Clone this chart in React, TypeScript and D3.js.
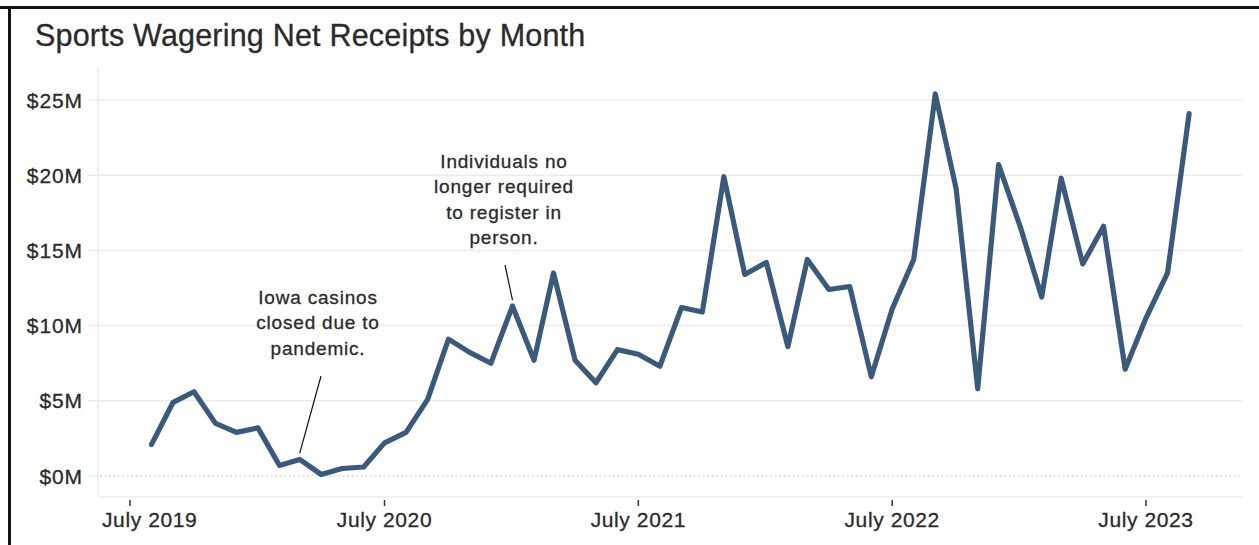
import React from "react";
import * as d3 from "d3";

const months: string[] = [
  "2019-08","2019-09","2019-10","2019-11","2019-12",
  "2020-01","2020-02","2020-03","2020-04","2020-05","2020-06","2020-07","2020-08","2020-09","2020-10","2020-11","2020-12",
  "2021-01","2021-02","2021-03","2021-04","2021-05","2021-06","2021-07","2021-08","2021-09","2021-10","2021-11","2021-12",
  "2022-01","2022-02","2022-03","2022-04","2022-05","2022-06","2022-07","2022-08","2022-09","2022-10","2022-11","2022-12",
  "2023-01","2023-02","2023-03","2023-04","2023-05","2023-06","2023-07","2023-08","2023-09",
];

// Net receipts, $ millions
const receipts: number[] = [
  2.1, 4.9, 5.6, 3.5, 2.9,
  3.2, 0.7, 1.1, 0.1, 0.5, 0.6, 2.2, 2.9, 5.1, 9.1, 8.2, 7.5,
  11.3, 7.7, 13.5, 7.7, 6.2, 8.4, 8.1, 7.3, 11.2, 10.9, 19.9, 13.4,
  14.2, 8.6, 14.4, 12.4, 12.6, 6.6, 11.1, 14.4, 25.4, 19.1, 5.8, 20.7,
  16.6, 11.9, 19.8, 14.1, 16.6, 7.1, 10.5, 13.5, 24.1,
];

const yTicks: number[] = [0, 5, 10, 15, 20, 25];
const xTickDates: string[] = ["2019-07", "2020-07", "2021-07", "2022-07", "2023-07"];
const xTickLabels: string[] = ["July 2019", "July 2020", "July 2021", "July 2022", "July 2023"];

const annotations = [
  { lines: ["Iowa casinos", "closed due to", "pandemic."], month: "2020-03", textX: 318, textY: 304, lineFrom: [321, 376] },
  { lines: ["Individuals no", "longer required", "to register in", "person."], month: "2021-01", textX: 504, textY: 168, lineFrom: [505, 265] },
];

const W = 1259;
const H = 545;
const FONT = "'Liberation Sans', Arial, sans-serif";
const TEXT = "#2a2a2a";

const parse = d3.timeParse("%Y-%m");

export default function App() {
  const x = d3
    .scaleTime()
    .domain([parse("2019-07")!, parse("2023-07")!])
    .range([130, 1146]);
  const y = d3.scaleLinear().domain([0, 25]).range([476, 100]);

  const plotLeft = 98;
  const plotRight = 1243;
  const plotTop = 68;
  const plotBottom = 497;

  const data = months.map((m, i) => ({ date: parse(m)!, v: receipts[i] }));
  const line = d3
    .line<{ date: Date; v: number }>()
    .x((d) => x(d.date))
    .y((d) => y(d.v));

  const textStroke = { stroke: TEXT, strokeWidth: 0.3 };

  return (
    <svg
      width={W}
      height={H}
      style={{ position: "absolute", left: 0, top: 0, background: "#fff" }}
      fontFamily={FONT}
    >
      <rect x={0} y={0} width={W} height={H} fill="#fff" />
      {/* frame */}
      <line x1={0} x2={W} y1={7.5} y2={7.5} stroke="#111" strokeWidth={3} />
      <line x1={9.5} x2={9.5} y1={6} y2={H} stroke="#111" strokeWidth={3} />

      {/* title */}
      <text x={35} y={46} fontSize={30.5} letterSpacing={0.2} fill={TEXT} {...textStroke}>
        Sports Wagering Net Receipts by Month
      </text>

      {/* gridlines */}
      {yTicks.map((t) =>
        t === 0 ? (
          <g key={t}>
            <line x1={88} x2={plotLeft} y1={y(t)} y2={y(t)} stroke="#ececec" strokeWidth={1.5} />
            <line
              x1={plotLeft + 2}
              x2={plotRight}
              y1={y(t)}
              y2={y(t)}
              stroke="#b8b8b8"
              strokeWidth={1.2}
              strokeDasharray="1.5,3"
            />
          </g>
        ) : (
          <line key={t} x1={88} x2={plotRight} y1={y(t)} y2={y(t)} stroke="#ececec" strokeWidth={1.5} />
        )
      )}
      {/* axis frame lines */}
      <line x1={plotLeft} x2={plotLeft} y1={plotTop} y2={plotBottom} stroke="#ececec" strokeWidth={1.5} />
      <line x1={plotLeft} x2={plotRight} y1={plotBottom} y2={plotBottom} stroke="#ececec" strokeWidth={1.5} />

      {/* y labels */}
      {yTicks.map((t) => (
        <text
          key={t}
          x={83}
          y={y(t) + 7.5}
          textAnchor="end"
          fontSize={21}
          letterSpacing={0.9}
          fill={TEXT}
          {...textStroke}
        >
          {`$${t}M`}
        </text>
      ))}

      {/* x ticks and labels */}
      {xTickDates.map((m, i) => {
        const px = x(parse(m)!);
        const first = i === 0;
        return (
          <g key={m}>
            <line x1={px} x2={px} y1={500} y2={506} stroke="#333" strokeWidth={1.5} />
            <text
              x={first ? 102 : px}
              y={527}
              textAnchor={first ? "start" : "middle"}
              fontSize={21}
              letterSpacing={0.6}
              fill={TEXT}
              {...textStroke}
            >
              {xTickLabels[i]}
            </text>
          </g>
        );
      })}

      {/* data line */}
      <path
        d={line(data) || ""}
        fill="none"
        stroke="#3b5a7b"
        strokeWidth={5.2}
        strokeLinejoin="round"
        strokeLinecap="round"
      />

      {/* annotations */}
      {annotations.map((a, i) => {
        const idx = months.indexOf(a.month);
        const px = x(data[idx].date);
        const py = y(data[idx].v) - 6;
        return (
          <g key={i}>
            <line x1={a.lineFrom[0]} y1={a.lineFrom[1]} x2={px} y2={py} stroke="#111" strokeWidth={1.2} />
            {a.lines.map((l, j) => (
              <text
                key={j}
                x={a.textX}
                y={a.textY + j * 25.3}
                textAnchor="middle"
                fontSize={19}
                letterSpacing={0.8}
                fill={TEXT}
                {...textStroke}
              >
                {l}
              </text>
            ))}
          </g>
        );
      })}
    </svg>
  );
}
